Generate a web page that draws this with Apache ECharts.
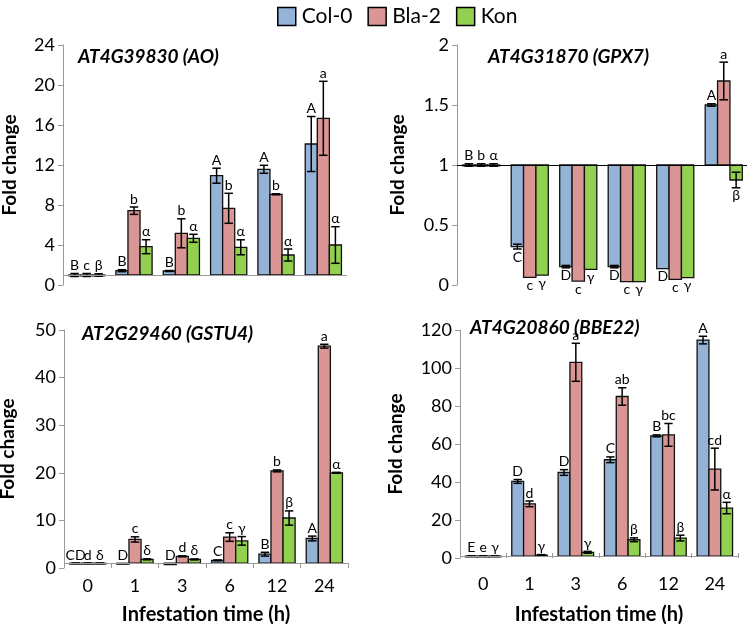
<!DOCTYPE html>
<html>
<head>
<meta charset="utf-8">
<script src="https://cdn.jsdelivr.net/npm/echarts@6/dist/echarts.min.js"></script>
<style>html,body{margin:0;padding:0;background:#fff}#c{width:747px;height:624px}</style>
</head>
<body>
<div id="c"></div>
<script>
// ---- data ----
const categories = ['0', '1', '3', '6', '12', '24'];
const seriesNames = ['Col-0', 'Bla-2', 'Kon'];

// AT4G39830 (AO)
const aoCol = [1.0, 1.43, 1.4, 10.93, 11.57, 14.1];
const aoColErr = [0.15, 0.1, 0.05, 0.75, 0.4, 2.75];
const aoColLbl = ['B', 'B', 'B', 'A', 'A', 'A'];
const aoBla = [1.0, 7.43, 5.17, 7.67, 9.07, 16.67];
const aoBlaErr = [0.15, 0.37, 1.45, 1.5, 0.05, 3.7];
const aoBlaLbl = ['c', 'b', 'b', 'b', 'b', 'a'];
const aoKon = [1.0, 3.83, 4.67, 3.77, 3.0, 4.0];
const aoKonErr = [0.12, 0.7, 0.4, 0.75, 0.6, 1.83];
const aoKonLbl = ['β', 'α', 'α', 'α', 'α', 'α'];

// AT4G31870 (GPX7)
const gpCol = [1.0, 0.32, 0.153, 0.153, 0.136, 1.5];
const gpColErr = [0.01, 0.02, 0.01, 0.01, 0.0, 0.01];
const gpColLbl = ['B', 'C', 'D', 'D', 'D', 'A'];
const gpBla = [1.0, 0.064, 0.033, 0.028, 0.047, 1.7];
const gpBlaErr = [0.01, 0.0, 0.0, 0.0, 0.0, 0.157];
const gpBlaLbl = ['b', 'c', 'c', 'c', 'c', 'a'];
const gpKon = [1.0, 0.083, 0.13, 0.028, 0.061, 0.875];
const gpKonErr = [0.01, 0.0, 0.0, 0.0, 0.0, 0.065];
const gpKonLbl = ['α', 'γ', 'γ', 'γ', 'γ', 'β'];

// AT2G29460 (GSTU4)
const gsCol = [1.0, 0.8, 0.7, 1.6, 2.9, 6.2];
const gsColErr = [0.05, 0.0, 0.0, 0.1, 0.4, 0.5];
const gsColLbl = ['CD', 'D', 'D', 'C', 'B', 'A'];
const gsBla = [1.0, 6.0, 2.45, 6.5, 20.4, 46.6];
const gsBlaErr = [0.05, 0.55, 0.1, 0.9, 0.2, 0.4];
const gsBlaLbl = ['d', 'c', 'd', 'c', 'b', 'a'];
const gsKon = [1.0, 1.82, 1.8, 5.7, 10.5, 20.0];
const gsKonErr = [0.05, 0.1, 0.1, 0.9, 1.5, 0.1];
const gsKonLbl = ['δ', 'δ', 'δ', 'γ', 'β', 'α'];

// AT4G20860 (BBE22)
const bbCol = [1.0, 40.3, 45.0, 51.7, 64.3, 114.7];
const bbColErr = [0.1, 1.0, 1.5, 1.5, 0.5, 2.0];
const bbColLbl = ['E', 'D', 'D', 'C', 'B', 'A'];
const bbBla = [1.0, 28.5, 103, 85, 64.8, 46.8];
const bbBlaErr = [0.1, 1.5, 10, 4.6, 6, 11];
const bbBlaLbl = ['e', 'd', 'a', 'ab', 'bc', 'cd'];
const bbKon = [1.0, 1.5, 3.0, 9.6, 10.5, 26.3];
const bbKonErr = [0.1, 0.3, 0.5, 1.0, 1.5, 3.0];
const bbKonLbl = ['γ', 'γ', 'γ', 'β', 'β', 'α'];

// ---- styling ----
const colors = ['#95B3D7', '#D99694', '#92D050'];
const FONT = 'Lato, "Open Sans", "DejaVu Sans", sans-serif';
const BASE = 1;

const panels = [
  { title: 'AT4G39830 (AO)', max: 24, interval: 4, grid: { left: 63, top: 45, width: 284, height: 240 },
    titlePos: [73, 42], lineColor: '#9a9a9a', showCats: false, labelBelow: false, nameGap: 44, catMargin: 10, xNameGap: 40,
    data: [[aoCol, aoColErr, aoColLbl], [aoBla, aoBlaErr, aoBlaLbl], [aoKon, aoKonErr, aoKonLbl]] },
  { title: 'AT4G31870 (GPX7)', max: 2, interval: 0.5, grid: { left: 457, top: 45, width: 291, height: 240 },
    titlePos: [483, 42], lineColor: '#000', showCats: false, labelBelow: true, nameGap: 50, catMargin: 10, xNameGap: 40,
    data: [[gpCol, gpColErr, gpColLbl], [gpBla, gpBlaErr, gpBlaLbl], [gpKon, gpKonErr, gpKonLbl]] },
  { title: 'AT2G29460 (GSTU4)', max: 50, interval: 10, grid: { left: 64, top: 330, width: 284, height: 238 },
    titlePos: [77, 319], lineColor: '#9a9a9a', showCats: true, labelBelow: false, nameGap: 47, catMargin: 9, xNameGap: 37,
    data: [[gsCol, gsColErr, gsColLbl], [gsBla, gsBlaErr, gsBlaLbl], [gsKon, gsKonErr, gsKonLbl]] },
  { title: 'AT4G20860 (BBE22)', max: 120, interval: 20, grid: { left: 460, top: 330, width: 278, height: 228 },
    titlePos: [465, 313], lineColor: '#9a9a9a', showCats: true, labelBelow: false, nameGap: 55, catMargin: 17, xNameGap: 47,
    data: [[bbCol, bbColErr, bbColLbl], [bbBla, bbBlaErr, bbBlaLbl], [bbKon, bbKonErr, bbKonLbl]] }
];

const grids = [], xAxes = [], yAxes = [], series = [], titles = [];

panels.forEach((p, pi) => {
  grids.push(Object.assign({ outerBoundsMode: 'none', containLabel: false }, p.grid));
  titles.push({ text: p.title, left: p.titlePos[0], top: p.titlePos[1],
    textStyle: { fontFamily: FONT, fontSize: 19, fontWeight: 'bold', fontStyle: 'italic', color: '#000' } });
  xAxes.push({
    type: 'category', gridIndex: pi, data: categories, boundaryGap: true,
    axisLine: { show: false },
    axisTick: { show: p.showCats, inside: true, length: 5, lineStyle: { color: '#9a9a9a' } },
    axisLabel: { show: p.showCats, fontFamily: FONT, fontSize: 18, color: '#000', margin: p.catMargin },
    name: p.showCats ? 'Infestation time (h)' : '', nameLocation: 'middle', nameGap: p.xNameGap,
    nameTextStyle: { fontFamily: FONT, fontSize: 20, fontWeight: 'bold', color: '#000' }
  });
  yAxes.push({
    type: 'value', gridIndex: pi, min: 0, max: p.max, interval: p.interval,
    splitLine: { show: false },
    axisLine: { show: true, lineStyle: { color: '#9a9a9a' } },
    axisTick: { show: true, length: 5, lineStyle: { color: '#9a9a9a' } },
    axisLabel: { fontFamily: FONT, fontSize: 18, color: '#000', margin: 8 },
    name: 'Fold change', nameLocation: 'middle', nameGap: p.nameGap, nameRotate: 90,
    nameTextStyle: { fontFamily: FONT, fontSize: 19, fontWeight: 'bold', color: '#000' }
  });
  p.data.forEach((d, si) => {
    const vals = d[0], errs = d[1], lbls = d[2];
    const s = {
      type: 'custom', name: seriesNames[si], xAxisIndex: pi, yAxisIndex: pi,
      itemStyle: { color: colors[si], borderColor: '#000', borderWidth: 1.5 },
      data: vals.map((v, i) => [i, v, errs[i]]),
      clip: false,
      renderItem: function (params, api) {
        const cat = api.value(0), v = api.value(1), e = api.value(2);
        const bandW = api.size([1, 0])[0];
        const bw = bandW * 0.255;
        const base = api.coord([cat, BASE]);
        const x0 = base[0] + (si - 1.5) * bw;
        const yv = api.coord([cat, v])[1];
        const cx = x0 + bw / 2;
        const children = [];
        children.push({
          type: 'rect',
          shape: { x: x0, y: Math.min(yv, base[1]), width: bw, height: Math.max(Math.abs(yv - base[1]), 0.8) },
          style: { fill: colors[si], stroke: '#111', lineWidth: 1.3 }
        });
        const yHi = api.coord([cat, v + e])[1];
        const yLo = api.coord([cat, v - e])[1];
        const cap = bw * 0.35;
        const ls = { stroke: '#000', lineWidth: 1.5 };
        if (e > 0) {
          children.push({ type: 'line', shape: { x1: cx, y1: yHi, x2: cx, y2: yLo }, style: ls });
          children.push({ type: 'line', shape: { x1: cx - cap, y1: yHi, x2: cx + cap, y2: yHi }, style: ls });
          children.push({ type: 'line', shape: { x1: cx - cap, y1: yLo, x2: cx + cap, y2: yLo }, style: ls });
        }
        const lbl = lbls[params.dataIndex];
        if (p.labelBelow && v < BASE) {
          children.push({ type: 'text', x: cx, y: yLo + 1,
            style: { text: lbl, fontFamily: FONT, fontSize: 14, fill: '#000', align: 'center', verticalAlign: 'top' } });
        } else {
          const yt = Math.min(yHi, base[1]) - 1;
          children.push({ type: 'text', x: cx, y: yt,
            style: { text: lbl, fontFamily: FONT, fontSize: 14, fill: '#000', align: 'center', verticalAlign: 'bottom' } });
        }
        return { type: 'group', children: children };
      }
    };
    if (si === 0) {
      s.markLine = {
        silent: true, symbol: ['none', 'none'], label: { show: false },
        lineStyle: { color: p.lineColor, type: 'solid', width: 1.2 },
        data: [{ yAxis: BASE }], animation: false
      };
    }
    series.push(s);
  });
});

const chart = echarts.init(document.getElementById('c'), null, { renderer: 'canvas' });
chart.setOption({
  animation: false,
  title: titles,
  legend: {
    data: seriesNames, left: 272, top: 1, icon: 'rect', itemWidth: 18, itemHeight: 18, itemGap: 15,
    itemStyle: { borderColor: '#000', borderWidth: 1.5 },
    textStyle: { fontFamily: FONT, fontSize: 21, color: '#000', padding: [0, 0, 0, 1] }
  },
  grid: grids, xAxis: xAxes, yAxis: yAxes, series: series
});
</script>
</body>
</html>
